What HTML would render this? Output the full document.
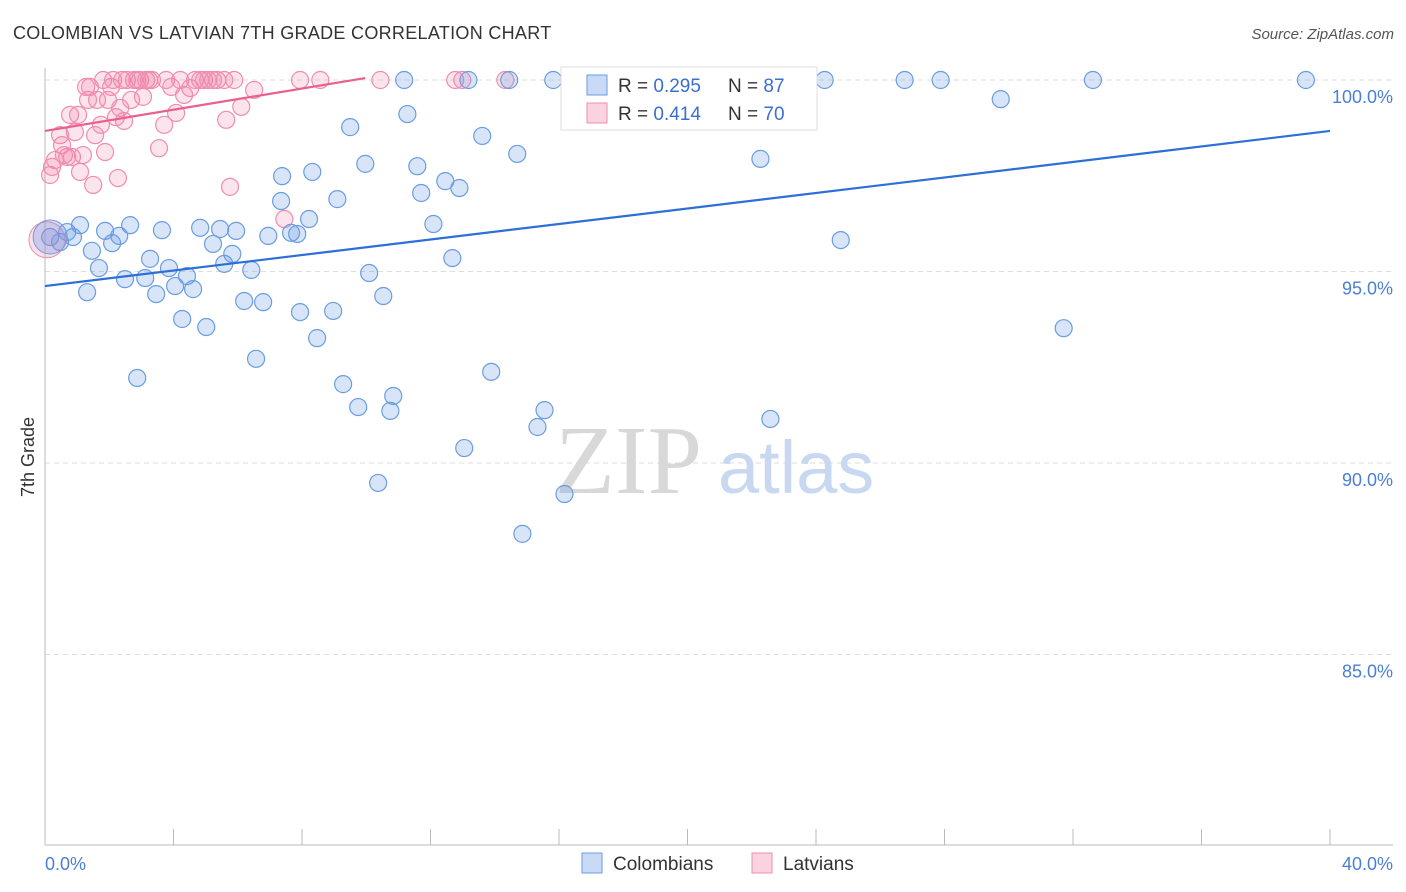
<!DOCTYPE html>
<html><head><meta charset="utf-8"><style>
body{margin:0;background:#fff;font-family:"Liberation Sans",sans-serif}
svg{display:block}
</style></head><body>
<svg id="chart" width="1406" height="892" xmlns="http://www.w3.org/2000/svg">
<text x="13" y="39" font-size="18" fill="#333" letter-spacing="0.3">COLOMBIAN VS LATVIAN 7TH GRADE CORRELATION CHART</text>
<text x="1394" y="39" font-size="15" fill="#555" font-style="italic" text-anchor="end">Source: ZipAtlas.com</text>
<g id="grid"></g>
<text x="555" y="493" font-size="98" fill="#d8d8d8" font-family="Liberation Serif,serif">ZIP</text>
<text x="718" y="493" font-size="74" fill="#c8d8f0">atlas</text>
<g id="axes"></g>
<g id="pts"></g>
<g id="trends"></g>
<text x="34" y="457" font-size="18" fill="#333" text-anchor="middle" transform="rotate(-90 34 457)">7th Grade</text>
<g>
<rect x="561" y="67" width="256" height="63" fill="#fff" stroke="#ddd"/>
<rect x="587" y="75" width="20" height="20" fill="rgba(100,150,230,0.35)" stroke="#6a9de0"/>
<text x="618" y="92" font-size="19" fill="#333">R = <tspan fill="#3a6fd0">0.295</tspan><tspan x="728">N = </tspan><tspan fill="#3a6fd0">87</tspan></text>
<rect x="587" y="103" width="20" height="20" fill="rgba(240,130,170,0.35)" stroke="#f08cb0"/>
<text x="618" y="120" font-size="19" fill="#333">R = <tspan fill="#3a6fd0">0.414</tspan><tspan x="728">N = </tspan><tspan fill="#3a6fd0">70</tspan></text>
</g>
<g>
<rect x="582" y="853" width="20" height="20" fill="rgba(100,150,230,0.35)" stroke="#6a9de0"/>
<text x="613" y="870" font-size="19" fill="#333">Colombians</text>
<rect x="752" y="853" width="20" height="20" fill="rgba(240,130,170,0.35)" stroke="#f08cb0"/>
<text x="783" y="870" font-size="19" fill="#333">Latvians</text>
</g>
</svg>
<script>
const blueX=[0.16,0.47,0.69,0.87,1.09,1.46,1.31,1.68,1.87,2.09,2.31,2.49,2.65,2.87,3.12,3.27,3.46,3.64,3.86,4.05,4.27,4.42,4.61,4.83,5.02,5.23,5.45,5.58,5.83,5.95,6.20,6.42,6.57,6.79,6.95,7.35,7.38,7.66,7.85,7.94,8.22,8.32,8.47,8.97,9.10,9.28,9.50,9.75,9.97,10.09,10.37,10.53,10.75,10.84,11.18,11.28,11.59,11.71,12.09,12.46,12.68,12.90,13.05,13.18,13.61,13.89,14.45,14.70,14.86,15.33,15.55,15.82,16.17,22.27,22.58,24.27,24.77,26.76,27.88,29.75,31.71,32.62,39.25];
const blueY=[95.90,95.77,96.03,95.90,96.21,95.54,94.46,95.09,96.06,95.74,95.93,94.80,96.21,92.22,94.83,95.33,94.41,96.08,95.09,94.62,93.76,94.88,94.54,96.14,93.55,95.72,96.11,95.20,95.46,96.06,94.23,95.04,92.72,94.20,95.93,96.84,97.49,96.01,95.98,93.94,96.37,97.60,93.26,93.97,96.89,92.06,98.77,91.46,97.81,94.96,89.48,94.36,91.36,91.75,100,99.11,97.75,97.05,96.24,97.36,95.35,97.18,90.39,100,98.54,92.38,100,98.07,88.15,90.94,91.38,100,89.19,97.94,91.15,100,95.82,100,100,99.50,93.52,100,100];
const pinkX=[0.16,0.22,0.31,0.47,0.53,0.59,0.69,0.78,0.84,0.93,1.03,1.09,1.18,1.28,1.34,1.40,1.50,1.56,1.62,1.74,1.81,1.87,1.96,2.06,2.12,2.21,2.27,2.34,2.40,2.46,2.55,2.68,2.77,2.87,2.96,3.05,3.15,3.24,3.33,3.55,3.71,3.77,3.93,4.08,4.21,4.33,4.52,4.67,4.83,4.95,5.08,5.23,5.36,5.58,5.64,5.76,5.89,6.11,6.51,7.45,7.94,8.57,10.44,12.77,12.99,14.33];
const pinkY=[97.52,97.73,97.91,98.56,98.30,98.04,97.99,99.09,97.99,98.64,99.09,97.60,98.04,99.82,99.48,99.82,97.26,98.56,99.48,98.83,100,98.12,99.48,99.82,100,99.03,97.44,99.27,100,98.93,100,99.48,100,100,100,99.56,100,100,100,98.22,98.83,100,99.82,99.14,100,99.61,99.79,100,100,100,100,100,100,100,98.96,97.21,100,99.30,99.74,96.37,100,100,100,100,100,100];
const bigBlue=[0.16,95.9], bigPink=[0.06,95.83];
const blueTrend=[94.62,98.67], pinkTrend=[98.67,100.05,9.97];
const yTicks=[100,95,90,85], xTicks=[0,4,8,12,16,20,24,28,32,36,40];
const X=v=>45+v*32.125, Y=v=>80+(100-v)*38.3;
const NS="http://www.w3.org/2000/svg";
function mk(parent,tag,attrs){const e=document.createElementNS(NS,tag);for(const k in attrs)e.setAttribute(k,attrs[k]);parent.appendChild(e);return e;}
const grid=document.getElementById('grid'),axes=document.getElementById('axes'),pts=document.getElementById('pts'),tr=document.getElementById('trends');
yTicks.forEach(t=>{
 const l=mk(grid,'line',{x1:45,x2:1393,y1:Y(t),y2:Y(t),stroke:'#ddd','stroke-dasharray':'5,4'});
 
 
 const tx=mk(axes,'text',{x:1393,y:Y(t)+23,'font-size':18,fill:'#4a7fd6','text-anchor':'end'});
 tx.textContent=t.toFixed(1)+'%';
 
 
});
mk(axes,'line',{x1:45,x2:45,y1:68,y2:845,stroke:'#bbb'});
mk(axes,'line',{x1:45,x2:1393,y1:845,y2:845,stroke:'#bbb'});
xTicks.forEach(t=>{const l=mk(axes,'line',{x1:X(t),x2:X(t),y1:829,y2:845,stroke:'#bbb'});
 
 });
let t0=mk(axes,'text',{x:45,y:870,'font-size':18,fill:'#4a7fd6'});t0.textContent=xTicks[0].toFixed(1)+'%';


let t1=mk(axes,'text',{x:1393,y:870,'font-size':18,fill:'#4a7fd6','text-anchor':'end'});t1.textContent=xTicks[xTicks.length-1].toFixed(1)+'%';


pinkX.forEach((x,i)=>{const c=mk(pts,'circle',{cx:X(x),cy:Y(pinkY[i]),r:8.5,fill:'rgba(240,130,170,0.22)',stroke:'#f08cb0','stroke-width':1.2});
 
 });
blueX.forEach((x,i)=>{const c=mk(pts,'circle',{cx:X(x),cy:Y(blueY[i]),r:8.5,fill:'rgba(100,150,230,0.25)',stroke:'#6a9de0','stroke-width':1.2});
 
 });
let bp=mk(pts,'circle',{cx:X(bigPink[0]),cy:Y(bigPink[1]),r:18,fill:'rgba(240,130,170,0.25)',stroke:'#f08cb0'});


let bb=mk(pts,'circle',{cx:X(bigBlue[0]),cy:Y(bigBlue[1]),r:17,fill:'rgba(100,150,230,0.3)',stroke:'#6a9de0'});


let bl=mk(tr,'line',{x1:X(0),y1:Y(blueTrend[0]),x2:X(40),y2:Y(blueTrend[1]),stroke:'#2c6fd6','stroke-width':2.2});


let pl=mk(tr,'line',{x1:X(0),y1:Y(pinkTrend[0]),x2:X(pinkTrend[2]),y2:Y(pinkTrend[1]),stroke:'#e8608f','stroke-width':2.2});


</script>
</body></html>
